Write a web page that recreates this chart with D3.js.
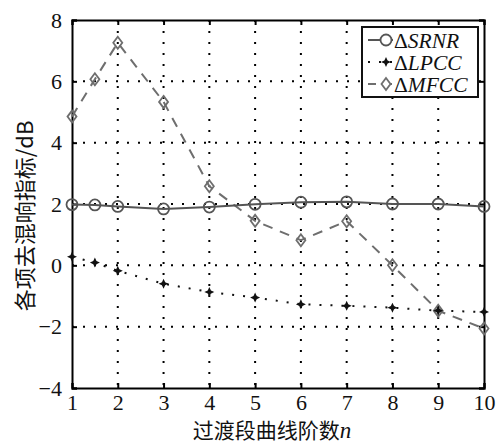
<!DOCTYPE html>
<html>
<head>
<meta charset="utf-8">
<script src="https://cdn.jsdelivr.net/npm/d3@7"></script>
<style>
  body { margin: 0; background: #fff; }
  svg { display: block; }
  .serif { font-family: "Liberation Serif", "DejaVu Serif", "Times New Roman", Times, serif; }
</style>
</head>
<body>
<svg id="chart" width="499" height="443"></svg>
<script>
// order n (with the half-step point at 1.5)
const orders = [1, 1.5, 2, 3, 4, 5, 6, 7, 8, 9, 10];
const srnr = [1.98, 1.97, 1.92, 1.84, 1.9, 1.99, 2.06, 2.07, 2.0, 2.0, 1.92];
const lpcc = [0.28, 0.09, -0.18, -0.6, -0.87, -1.05, -1.27, -1.32, -1.38, -1.48, -1.52];
const mfcc = [4.85, 6.07, 7.26, 5.33, 2.58, 1.45, 0.82, 1.44, 0.0, -1.48, -2.06];

const xTicks = [1, 2, 3, 4, 5, 6, 7, 8, 9, 10];
const yTicks = [-4, -2, 0, 2, 4, 6, 8];
const seriesNames = ["SRNR", "LPCC", "MFCC"];

const svg = d3.select("#chart");
const plotLeft = 72, plotRight = 484, plotTop = 20, plotBottom = 388;

const xScale = d3.scaleLinear().domain([1, 10]).range([plotLeft, plotRight]);
const yScale = d3.scaleLinear().domain([-4, 8]).range([plotBottom, plotTop]);

// grid (dotted)
const grid = svg.append("g");
grid.selectAll(".gx")
    .data(xTicks.slice(1, -1))
    .join("line")
    .attr("x1", d => xScale(d)).attr("x2", d => xScale(d))
    .attr("y1", plotTop).attr("y2", plotBottom)
    .attr("stroke", "#000").attr("stroke-width", 2)
    .attr("stroke-dasharray", "2,9");
grid.selectAll(".gy")
    .data(yTicks.slice(1, -1))
    .join("line")
    .attr("y1", d => yScale(d)).attr("y2", d => yScale(d))
    .attr("x1", plotLeft).attr("x2", plotRight)
    .attr("stroke", "#000").attr("stroke-width", 2)
    .attr("stroke-dasharray", "2,9");

// axes with inward ticks
const xAxis = svg.append("g")
    .attr("transform", `translate(0,${plotBottom})`)
    .call(d3.axisBottom(xScale).tickValues(xTicks).tickSize(-5).tickPadding(6).tickFormat(d3.format("d")));
const xAxisTop = svg.append("g")
    .attr("transform", `translate(0,${plotTop})`)
    .call(d3.axisTop(xScale).tickValues(xTicks).tickSize(-5).tickFormat(""));
const yAxis = svg.append("g")
    .attr("transform", `translate(${plotLeft},0)`)
    .call(d3.axisLeft(yScale).tickValues(yTicks).tickSize(-5).tickPadding(10).tickFormat(d3.format("d")));
const yAxisRight = svg.append("g")
    .attr("transform", `translate(${plotRight},0)`)
    .call(d3.axisRight(yScale).tickValues(yTicks).tickSize(-5).tickFormat(""));

[xAxis, xAxisTop, yAxis, yAxisRight].forEach(a => {
    a.attr("font-family", null);
    a.select(".domain").attr("stroke", "#000").attr("stroke-width", 2);
    a.selectAll(".tick line").attr("stroke", "#000").attr("stroke-width", 2);
    a.selectAll("text")
        .attr("class", "serif")
        .attr("font-size", 22)
        .attr("fill", "#111");
});
xAxis.selectAll("text").attr("dy", "0.71em");

// lines
const line = vals => d3.line()
    .x((d, i) => xScale(orders[i]))
    .y(d => yScale(d))(vals);

svg.append("path")
    .attr("d", line(lpcc))
    .attr("fill", "none").attr("stroke", "#111")
    .attr("stroke-width", 2).attr("stroke-dasharray", "2,9");

svg.append("path")
    .attr("d", line(mfcc))
    .attr("fill", "none").attr("stroke", "#6e6e6e")
    .attr("stroke-width", 2).attr("stroke-dasharray", "10,8");

svg.append("path")
    .attr("d", line(srnr))
    .attr("fill", "none").attr("stroke", "#555")
    .attr("stroke-width", 2);

// markers
const starPath = "M0,-5 L1.6,-1.6 L5,0 L1.6,1.6 L0,5 L-1.6,1.6 L-5,0 L-1.6,-1.6 Z";
const diamondPath = "M0,-6 L4.5,0 L0,6 L-4.5,0 Z";

svg.append("g").selectAll("circle")
    .data(srnr)
    .join("circle")
    .attr("cx", (d, i) => xScale(orders[i]))
    .attr("cy", d => yScale(d))
    .attr("r", 5.5)
    .attr("fill", "none").attr("stroke", "#555").attr("stroke-width", 1.8);

svg.append("g").selectAll("path")
    .data(mfcc)
    .join("path")
    .attr("d", diamondPath)
    .attr("transform", (d, i) => `translate(${xScale(orders[i])},${yScale(d)})`)
    .attr("fill", "none").attr("stroke", "#6e6e6e").attr("stroke-width", 1.8);

svg.append("g").selectAll("path")
    .data(lpcc)
    .join("path")
    .attr("d", starPath)
    .attr("transform", (d, i) => `translate(${xScale(orders[i])},${yScale(d)})`)
    .attr("fill", "#111");

// legend
const legend = svg.append("g");
legend.append("rect")
    .attr("x", 362).attr("y", 27).attr("width", 116).attr("height", 70)
    .attr("fill", "#fff").attr("stroke", "#111").attr("stroke-width", 2);

const legendRows = legend.selectAll(".row")
    .data(seriesNames)
    .join("g")
    .attr("transform", (d, i) => `translate(0,${40 + i * 22})`);

legendRows.append("line")
    .attr("x1", 368).attr("x2", 393).attr("y1", 0).attr("y2", 0)
    .attr("stroke", (d, i) => ["#555", "#111", "#6e6e6e"][i])
    .attr("stroke-width", 2)
    .attr("stroke-dasharray", (d, i) => [null, "2,9", "8,8"][i]);

legendRows.each(function (d, i) {
    const g = d3.select(this);
    if (i === 0) {
        g.append("circle").attr("cx", 386).attr("cy", 0).attr("r", 5.5)
            .attr("fill", "#fff").attr("stroke", "#555").attr("stroke-width", 1.8);
    } else if (i === 1) {
        g.append("path").attr("d", starPath).attr("transform", "translate(386,0)").attr("fill", "#111");
    } else {
        g.append("path").attr("d", diamondPath).attr("transform", "translate(386,0)")
            .attr("fill", "#fff").attr("stroke", "#6e6e6e").attr("stroke-width", 1.8);
    }
});

const legendText = legendRows.append("text")
    .attr("class", "serif")
    .attr("x", 394).attr("y", 0).attr("dy", "0.35em")
    .attr("font-size", 21.5).attr("fill", "#111");
legendText.append("tspan").text("Δ");
legendText.append("tspan").attr("font-style", "italic").text(d => d);

// axis titles
const xTitle = svg.append("text")
    .attr("x", 272).attr("y", 438)
    .attr("text-anchor", "middle")
    .attr("font-family", "'Noto Sans CJK SC', sans-serif")
    .attr("font-size", 21).attr("fill", "#111");
xTitle.append("tspan").text("过渡段曲线阶数");
xTitle.append("tspan").attr("class", "serif").attr("font-style", "italic").attr("font-size", 23).text("n");

svg.append("text")
    .attr("transform", "translate(33,216) rotate(-90)")
    .attr("text-anchor", "middle")
    .attr("font-family", "'Noto Sans CJK SC', sans-serif")
    .attr("font-size", 22).attr("fill", "#111")
    .text("各项去混响指标/dB");
</script>
</body>
</html>
